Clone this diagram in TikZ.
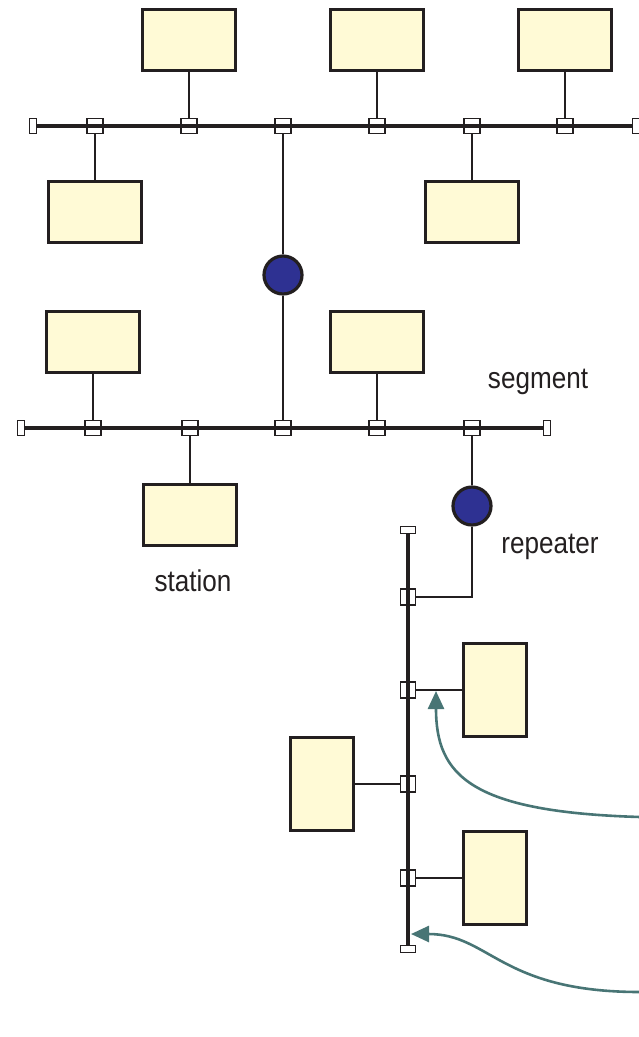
\documentclass[tikz,border=0pt]{standalone}
\usepackage{fontspec}
\setmainfont{Liberation Sans}
\newfontfamily\lblfont[FakeStretch=0.87]{Liberation Sans}
\usetikzlibrary{arrows.meta,backgrounds}
\definecolor{stfill}{RGB}{255,250,214}
\definecolor{ink}{RGB}{35,31,32}
\definecolor{rep}{RGB}{46,49,146}
\definecolor{tealc}{RGB}{72,117,117}
\begin{document}
\begin{tikzpicture}[x=1pt,y=-1pt,
 station/.style={draw=ink,line width=3.3pt,fill=stfill,minimum width=93pt,minimum height=61pt,inner sep=0pt},
 vstation/.style={station,minimum width=63pt,minimum height=93pt},
 tap/.style={draw=ink,line width=1.8pt,minimum width=16pt,minimum height=15pt,inner sep=0pt},
 hcap/.style={draw=ink,fill=white,line width=1.8pt,minimum width=7pt,minimum height=15pt,inner sep=0pt},
 vcap/.style={hcap,minimum width=15pt,minimum height=7pt},
 repeater/.style={circle,draw=ink,fill=rep,line width=3.2pt,minimum size=38pt,inner sep=0pt},
 bus/.style={draw=ink,line width=4.6pt},
 drop/.style={draw=ink,line width=1.6pt},
 lbl/.style={font=\lblfont\fontsize{30}{34}\selectfont,text=ink},
 pointer/.style={draw=tealc,line width=2.6pt,-{Triangle[length=18pt,width=16pt]}}
]
\useasboundingbox (0,0) rectangle (638,1037);
% top bus
\node[hcap] (c1l) at (33,126) {};
\node[hcap] (c1r) at (636,126) {};
\foreach \n/\x in {1/95,2/189,3/283,4/377,5/472,6/565}
  \node[tap] (t\n) at (\x,126) {};
\node[station] (s1) at (189,40) {};
\node[station] (s2) at (377,40) {};
\node[station] (s3) at (565,40) {};
\node[station] (s4) at (95,212) {};
\node[station] (s5) at (472,212) {};
\node[repeater] (r1) at (283,275) {};
% second bus
\node[hcap] (c2l) at (21,428) {};
\node[hcap] (c2r) at (547,428) {};
\foreach \n/\x in {1/93,2/190,3/283,4/377,5/472}
  \node[tap] (u\n) at (\x,428) {};
\node[station] (s6) at (93,342) {};
\node[station] (s7) at (377,342) {};
\node[station] (s8) at (190,515) {};
\node[repeater] (r2) at (472,506) {};
% vertical bus
\node[vcap] (c3t) at (408,530) {};
\node[vcap] (c3b) at (408,949) {};
\foreach \n/\y in {1/597,2/690,3/784,4/878}
  \node[tap,minimum width=15pt,minimum height=16pt] (v\n) at (408,\y) {};
\node[vstation] (s9) at (495,690) {};
\node[vstation] (s10) at (322,784) {};
\node[vstation] (s11) at (495,878) {};
% labels
\node[lbl] (lseg) at (538,382) {segment};
\node[lbl] (lsta) at (193,581) {station};
\node[lbl] (lrep) at (550,547) {repeater};
\begin{scope}[on background layer]
\draw[bus] (c1l.east) -- (c1r.west);
\draw[bus] (c2l.east) -- (c2r.west);
\draw[bus] (c3t.south) -- (c3b.north);
\end{scope}
% drops
\draw[drop] (s1) -- (t2);
\draw[drop] (s2) -- (t4);
\draw[drop] (s3) -- (t6);
\draw[drop] (s4) -- (t1);
\draw[drop] (s5) -- (t5);
\draw[drop] (t3) -- (r1);
\draw[drop] (r1) -- (u3);
\draw[drop] (s6) -- (u1);
\draw[drop] (s7) -- (u4);
\draw[drop] (s8) -- (u2);
\draw[drop] (u5) -- (r2);
\draw[drop] (r2) |- (v1);
\draw[drop] (v2) -- (s9);
\draw[drop] (v3) -- (s10);
\draw[drop] (v4) -- (s11);
% pointers
\coordinate (p1s) at (640,817);
\coordinate (p1e) at (436,691);
\coordinate (p2s) at (640,992);
\coordinate (p2e) at (411,934);
\draw[pointer] (p1s) .. controls (470,812) and (436,775) .. (p1e);
\draw[pointer] (p2s) .. controls (500,992) and (490,934) .. (p2e);
\end{tikzpicture}
\end{document}
